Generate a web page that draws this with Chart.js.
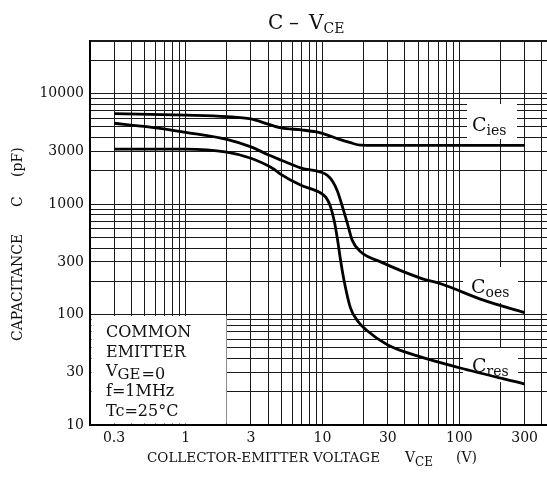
<!DOCTYPE html>
<html>
<head>
<meta charset="utf-8">
<script src="https://cdn.jsdelivr.net/npm/chart.js@4/dist/chart.umd.min.js"></script>
<style>
  html, body { margin: 0; padding: 0; background: #fff; overflow: hidden; }
  #wrap { width: 560px; height: 490px; }
</style>
</head>
<body>
<div id="wrap"><canvas id="chartCanvas" width="560" height="490"></canvas></div>
<script>
// values (VCE in volts, capacitance in pF)
const ciesV = [0.3, 1, 2, 3, 4, 5, 7, 9, 11, 13, 16, 19, 25, 100, 300];
const ciesC = [6600, 6400, 6200, 5900, 5300, 4900, 4700, 4500, 4200, 3900, 3600, 3420, 3400, 3400, 3400];

const coesV = [0.3, 0.5, 1, 2, 3, 4, 5, 7, 9.7, 10.8, 11.8, 12.8, 13.8, 15.3, 16.5, 19, 26.6, 52, 74, 150, 300];
const coesC = [5400, 5050, 4470, 3860, 3300, 2800, 2500, 2120, 1950, 1830, 1620, 1330, 1000, 650, 470, 370, 300, 214, 189, 135, 104];

const cresV = [0.3, 1, 2, 3, 4.4, 4.9, 6.9, 9.7, 10.6, 11.4, 12.2, 12.9, 13.5, 14.3, 16, 18, 21, 30, 50, 100, 300];
const cresC = [3150, 3150, 2950, 2600, 2080, 1880, 1490, 1260, 1150, 960, 700, 470, 320, 210, 115, 88, 72, 53, 42, 33, 23.5];

const xTickLabels = [0.3, 1, 3, 10, 30, 100, 300];
const yTickLabels = [10, 30, 100, 300, 1000, 3000, 10000];

const serif = 'DejaVu Serif';

// log paper grid: 1..9 in every decade
function logGrid(min, max) {
    const out = [];
    for (let d = Math.floor(Math.log10(min)); d <= Math.ceil(Math.log10(max)); d++) {
        for (let m = 1; m <= 9; m++) {
            const v = Number((m * Math.pow(10, d)).toPrecision(3));
            if (v >= min && v <= max) out.push(v);
        }
    }
    return out;
}

function pts(xs, ys) {
    return xs.map((x, i) => ({ x: x, y: ys[i] }));
}

// text with subscript
function subText(ctx, main, sub, x, y, size, subSize, drop) {
    ctx.font = size + 'px "' + serif + '"';
    ctx.fillText(main, x, y);
    const w = ctx.measureText(main).width;
    ctx.font = subSize + 'px "' + serif + '"';
    ctx.fillText(sub, x + w, y + drop);
    return x + w + ctx.measureText(sub).width;
}

const annotations = {
    id: 'annotations',
    beforeDatasetsDraw(chart) {
        const ctx = chart.ctx;
        const a = chart.chartArea;
        ctx.save();
        ctx.fillStyle = '#fff';
        // white boxes over the grid
        ctx.fillRect(a.left + 1.5, 316, 225 - a.left, a.bottom - 317.5);
        ctx.fillRect(467, 104, 50, 35);
        ctx.fillRect(463, 267, 55, 36);
        ctx.fillRect(463, 348, 55, 34);

        ctx.fillStyle = '#111';
        ctx.textBaseline = 'alphabetic';
        ctx.textAlign = 'left';
        ctx.font = '16px "' + serif + '"';
        ctx.fillText('COMMON', 106, 337);
        ctx.fillText('EMITTER', 106, 357);
        let x = subText(ctx, 'V', 'GE', 106, 376, 16, 15, 3);
        ctx.font = '16px "' + serif + '"';
        ctx.fillText('=0', x + 1, 379);
        ctx.fillText('f=1MHz', 106, 396);
        ctx.fillText('Tc=25\u00B0C', 106, 416);

        subText(ctx, 'C', 'ies', 472, 131, 19, 14, 4);
        subText(ctx, 'C', 'oes', 471, 293, 19, 14, 4);
        subText(ctx, 'C', 'res', 472, 372, 19, 14, 4);
        ctx.restore();
    },
    afterDraw(chart) {
        const ctx = chart.ctx;
        ctx.save();
        ctx.fillStyle = '#111';
        ctx.textAlign = 'left';
        ctx.textBaseline = 'alphabetic';
        // title
        ctx.font = '20px "' + serif + '"';
        ctx.fillText('C', 268, 29);
        ctx.fillText('\u2013', 289, 29);
        subText(ctx, 'V', 'CE', 309, 29, 20, 14, 4);

        // x title
        ctx.font = '13.5px "' + serif + '"';
        ctx.fillText('COLLECTOR-EMITTER VOLTAGE', 147, 462);
        subText(ctx, 'V', 'CE', 405, 462, 14, 12, 4);
        ctx.font = '14px "' + serif + '"';
        ctx.fillText('(V)', 456, 462);

        // y title
        ctx.translate(22, 0);
        ctx.rotate(-Math.PI / 2);
        ctx.font = '14px "' + serif + '"';
        ctx.fillText('CAPACITANCE', -341, 0);
        ctx.fillText('C', -207, 0);
        ctx.fillText('(pF)', -177, 0);
        ctx.restore();
    }
};

const ctx = document.getElementById('chartCanvas').getContext('2d');

const lineStyle = {
    borderColor: '#000',
    borderWidth: 2.8,
    pointRadius: 0,
    fill: false,
    cubicInterpolationMode: 'monotone'
};

new Chart(ctx, {
    type: 'line',
    data: {
        datasets: [
            Object.assign({ label: 'Cies', data: pts(ciesV, ciesC) }, lineStyle),
            Object.assign({ label: 'Coes', data: pts(coesV, coesC) }, lineStyle),
            Object.assign({ label: 'Cres', data: pts(cresV, cresC) }, lineStyle)
        ]
    },
    options: {
        responsive: false,
        animation: false,
        layout: { padding: { top: 41, right: 3, left: 0, bottom: 0 } },
        plugins: {
            legend: { display: false },
            title: { display: false },
            tooltip: { enabled: false }
        },
        scales: {
            x: {
                type: 'logarithmic',
                min: 0.2,
                max: 500,
                afterBuildTicks: s => { s.ticks = logGrid(0.2, 500).map(v => ({ value: v })); },
                afterFit: s => { s.height = 65; },
                ticks: {
                    autoSkip: false,
                    maxRotation: 0,
                    padding: 5,
                    color: '#111',
                    font: { family: serif, size: 14 },
                    callback: v => xTickLabels.includes(v) ? String(v) : ''
                },
                grid: { color: '#1a1a1a', lineWidth: 1, drawTicks: false },
                border: { color: '#000', width: 2 }
            },
            y: {
                type: 'logarithmic',
                min: 10,
                max: 30000,
                afterBuildTicks: s => { s.ticks = logGrid(10, 30000).map(v => ({ value: v })); },
                afterFit: s => { s.width = 90; },
                ticks: {
                    autoSkip: false,
                    padding: 6,
                    color: '#111',
                    font: { family: serif, size: 14 },
                    callback: v => yTickLabels.includes(v) ? String(v) : ''
                },
                grid: {
                    color: '#1a1a1a',
                    lineWidth: c => (c.tick && c.tick.value === 30000) ? 2 : 1,
                    drawTicks: false
                },
                border: { color: '#000', width: 2 }
            }
        }
    },
    plugins: [annotations]
});
</script>
</body>
</html>
